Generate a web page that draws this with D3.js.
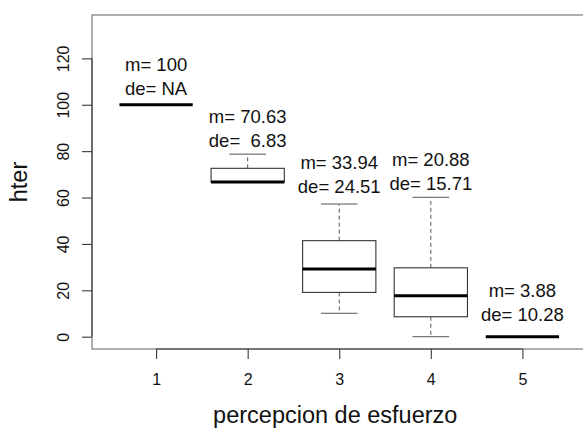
<!DOCTYPE html>
<html><head><meta charset="utf-8">
<script src="https://cdn.jsdelivr.net/npm/d3@7"></script>
<style>
html,body{margin:0;padding:0;background:#fff;}
svg text{font-family:"Liberation Sans",Arial,Helvetica,sans-serif;white-space:pre;}
</style></head>
<body>
<svg id="chart" width="583" height="428"></svg>
<script>
// ---- data ----
const categories = ["1", "2", "3", "4", "5"];
const whiskerLow = [100, 66.7, 10.1, 0, 0];
const q1 = [100, 66.7, 19.1, 8.6, 0];
const medians = [100, 66.7, 29.2, 17.7, 0];
const q3 = [100, 72.6, 41.4, 29.7, 0];
const whiskerHigh = [100, 78.7, 57.2, 60.1, 0];
const meanLabels = ["100", "70.63", "33.94", "20.88", "3.88"];
const sdLabels = ["NA", " 6.83", "24.51", "15.71", "10.28"];
const labelAnchorY = [112.6, 89.9, 70.1, 71.6, 14.9];
const yTicks = [0, 20, 40, 60, 80, 100, 120];
const yDomain = [-5.3, 138.7];
const xDomain = [0.3, 5.7];
const xTitle = "percepcion de esfuerzo";
const yTitle = "hter";

// ---- layout ----
const svg = d3.select("#chart");
const mLeft = 92, mRight = 586.5, mTop = 15, mBottom = 349;
const x = d3.scaleLinear().domain(xDomain).range([mLeft, mRight]);
const y = d3.scaleLinear().domain(yDomain).range([mBottom, mTop]);
const boxHalf = (x(1.4) - x(1));
const capHalf = boxHalf / 2;

// plot frame
svg.append("rect").attr("x", mLeft).attr("y", mTop)
  .attr("width", mRight - mLeft).attr("height", mBottom - mTop)
  .attr("fill", "none").attr("stroke", "#6e6e6e").attr("stroke-width", 1.1);

// x axis
const xAxis = d3.axisBottom(x).tickValues(categories.map(Number))
  .tickFormat((d, i) => categories[i]).tickSize(10).tickPadding(0);
const gx = svg.append("g").attr("transform", `translate(0,${mBottom})`).call(xAxis);
gx.select(".domain").attr("stroke", "#3a3a3a").attr("stroke-width", 1.1)
  .attr("d", `M${x(1)},0H${x(5)}`);
gx.selectAll(".tick line").attr("stroke", "#3a3a3a").attr("stroke-width", 1.1);
gx.selectAll(".tick text").attr("y", 36).attr("dy", null)
  .attr("font-size", 16).attr("fill", "#111")
  .style("font-family", '"Liberation Sans",Arial,sans-serif');

// y axis
const yAxis = d3.axisLeft(y).tickValues(yTicks).tickSize(10).tickPadding(0);
const gy = svg.append("g").attr("transform", `translate(${mLeft},0)`).call(yAxis);
gy.select(".domain").attr("stroke", "#3a3a3a").attr("stroke-width", 1.1)
  .attr("d", `M0,${y(0)}V${y(120)}`);
gy.selectAll(".tick line").attr("stroke", "#3a3a3a").attr("stroke-width", 1.1);
gy.selectAll(".tick text")
  .attr("x", null).attr("dy", null)
  .attr("transform", "translate(-23,0) rotate(-90)")
  .attr("text-anchor", "middle")
  .attr("font-size", 16).attr("fill", "#111")
  .style("font-family", '"Liberation Sans",Arial,sans-serif');

// boxes
const g = svg.append("g");
categories.forEach((c, i) => {
  const cx = x(+c);
  if (whiskerHigh[i] > q3[i]) {
    g.append("line").attr("x1", cx).attr("x2", cx)
      .attr("y1", y(q3[i])).attr("y2", y(whiskerHigh[i]))
      .attr("stroke", "#555").attr("stroke-dasharray", "4,3");
  }
  if (whiskerLow[i] < q1[i]) {
    g.append("line").attr("x1", cx).attr("x2", cx)
      .attr("y1", y(q1[i])).attr("y2", y(whiskerLow[i]))
      .attr("stroke", "#555").attr("stroke-dasharray", "4,3");
  }
  [whiskerLow[i], whiskerHigh[i]].forEach(v => {
    g.append("line").attr("x1", cx - capHalf).attr("x2", cx + capHalf)
      .attr("y1", y(v)).attr("y2", y(v)).attr("stroke", "#555");
  });
  if (q3[i] > q1[i]) {
    g.append("rect").attr("x", cx - boxHalf).attr("y", y(q3[i]))
      .attr("width", 2 * boxHalf).attr("height", y(q1[i]) - y(q3[i]))
      .attr("fill", "#fff").attr("stroke", "#333").attr("stroke-width", 1.1);
  }
  g.append("line").attr("x1", cx - boxHalf).attr("x2", cx + boxHalf)
    .attr("y1", y(medians[i])).attr("y2", y(medians[i]))
    .attr("stroke", "#000").attr("stroke-width", 3);
  const t = g.append("text").attr("text-anchor", "middle")
    .attr("font-size", 18.5).attr("fill", "#111");
  const ay = y(labelAnchorY[i]);
  t.append("tspan").attr("x", cx).attr("y", ay - 5).text("m= " + meanLabels[i]);
  t.append("tspan").attr("x", cx).attr("y", ay + 19).text("de= " + sdLabels[i]);
});

// titles
svg.append("text").attr("x", (mLeft + mRight) / 2 - 4).attr("y", 423)
  .attr("text-anchor", "middle").attr("font-size", 23.5).attr("fill", "#111")
  .text(xTitle);
svg.append("text").attr("transform", `translate(27,${(mTop + mBottom) / 2}) rotate(-90)`)
  .attr("text-anchor", "middle").attr("font-size", 23.5).attr("fill", "#111")
  .text(yTitle);
</script>
</body></html>
